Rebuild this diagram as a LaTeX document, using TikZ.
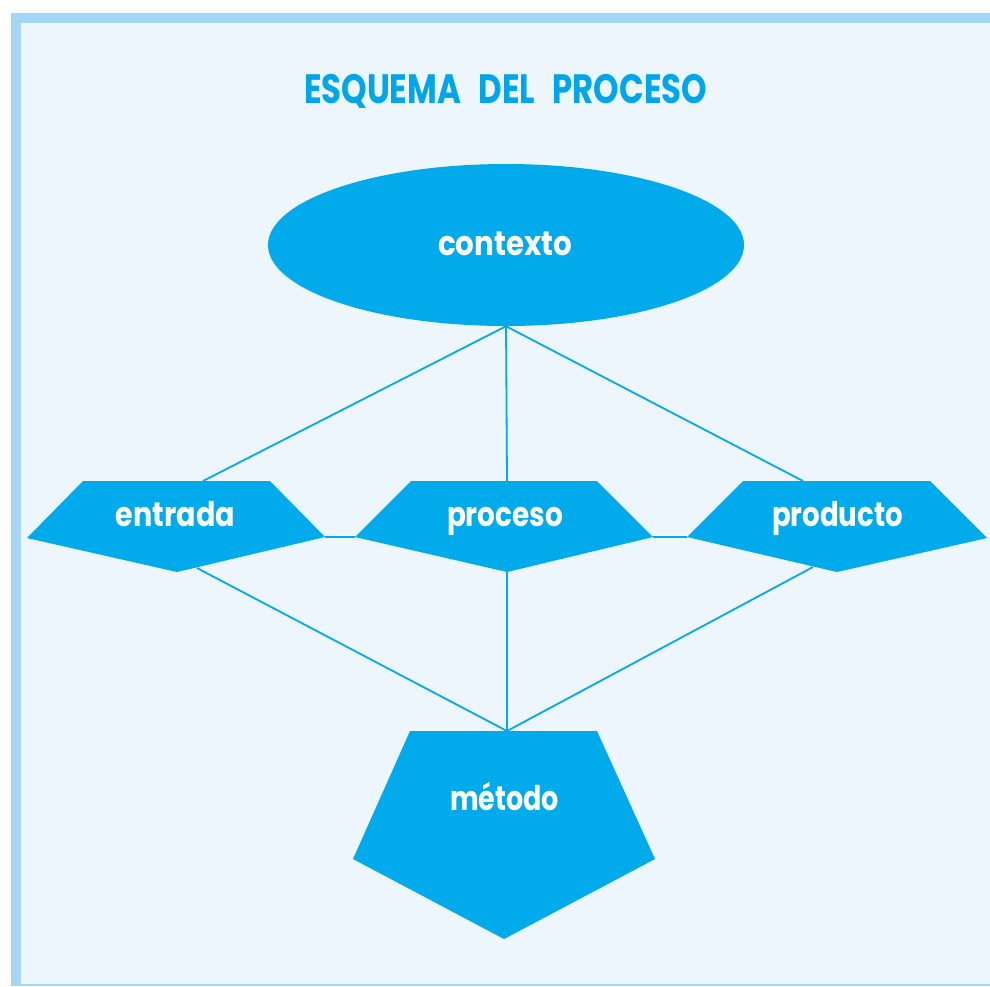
\documentclass[tikz,border=0pt]{standalone}
\usepackage{fontspec}
\setmainfont{Poppins}
\usepackage{graphicx}
\usetikzlibrary{shapes.geometric}
\definecolor{shapeblue}{HTML}{00AAEB}
\definecolor{titleblue}{HTML}{00A6E8}
\definecolor{bgcol}{HTML}{EEF6FD}
\definecolor{bordercol}{HTML}{A3D7F5}
\newcommand\fitw[2]{\resizebox{#1}{\height}{#2}}
\begin{document}
\begin{tikzpicture}[x=1pt,y=-1pt,
  lbl/.style={text=white,font=\fontsize{34}{34}\selectfont\bfseries,inner sep=0pt,anchor=base},
  ttl/.style={text=titleblue,font=\fontsize{41}{41}\selectfont\bfseries,inner sep=0pt,anchor=base},
  link/.style={draw=shapeblue,line width=1.8pt},
  shapefill/.style={fill=shapeblue}]
\useasboundingbox (0,0) rectangle (990,986);
\fill[white] (0,0) rectangle (990,986);
\fill[bordercol] (11,13) rectangle (990,986);
\fill[bgcol] (21,23) rectangle (990,984);

% title
\node[ttl] (title) at (505.5,103) {\fitw{403pt}{ESQUEMA\hspace{22pt}DEL\hspace{22pt}PROCESO}};

% contexto ellipse
\node[ellipse,shapefill,minimum width=476pt,minimum height=162pt,inner sep=0pt] (contexto) at (506,245) {};

% anchor coordinates
\coordinate (entT) at (203,481);
\coordinate (entB) at (197,568);
\coordinate (entR) at (325,537);
\coordinate (proT) at (507,481);
\coordinate (proB) at (507,572);
\coordinate (proL) at (355,537);
\coordinate (proR) at (653,537);
\coordinate (prdT) at (803,481);
\coordinate (prdB) at (813,567);
\coordinate (prdL) at (687,537);
\coordinate (metT) at (507,731);

% connectors
\draw[link] (contexto.south) -- (entT);
\draw[link] (contexto.south) -- (proT);
\draw[link] (contexto.south) -- (prdT);
\draw[link] (entB) -- (metT);
\draw[link] (proB) -- (metT);
\draw[link] (prdB) -- (metT);
\draw[link] (entR) -- (proL);
\draw[link] (proR) -- (prdL);

% shapes
\fill[shapefill] (27,538) -- (83,481) -- (270,481) -- (325,537) -- (177,572) -- cycle;
\fill[shapefill] (355,537) -- (411,481) -- (597,481) -- (653,537) -- (507,572) -- cycle;
\fill[shapefill] (687,537) -- (743,481) -- (930,481) -- (987,538) -- (837,572) -- cycle;
\fill[shapefill] (410,731) -- (597,731) -- (655,859) -- (504,939) -- (353,859) -- cycle;

% labels
\node[lbl] (lctx) at (505,255) {\fitw{134pt}{contexto}};
\node[lbl] (lent) at (175.5,526) {\fitw{119pt}{entrada}};
\node[lbl] (lpro) at (505,526) {\fitw{116pt}{proceso}};
\node[lbl] (lprd) at (837.5,526) {\fitw{131pt}{producto}};
\node[lbl] (lmet) at (504.5,810) {\fitw{109pt}{método}};
\end{tikzpicture}
\end{document}
